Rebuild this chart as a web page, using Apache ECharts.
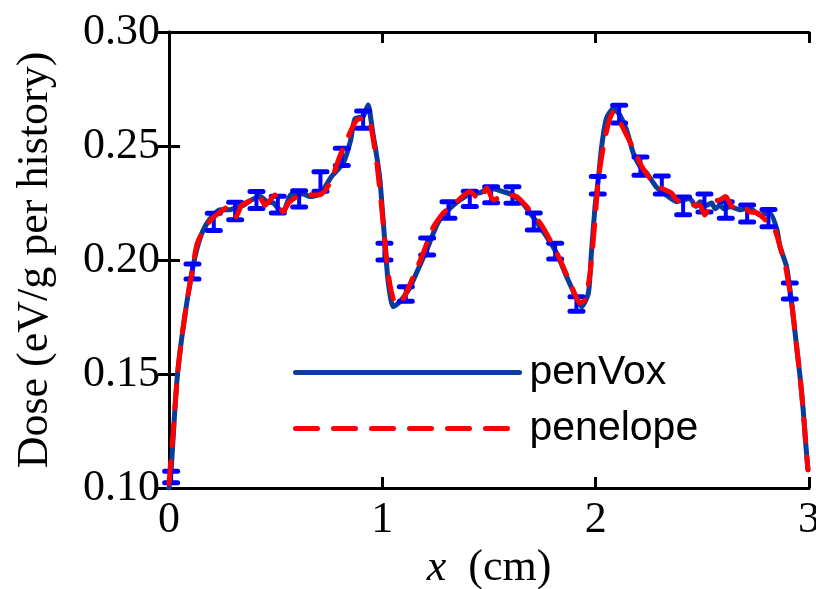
<!DOCTYPE html>
<html>
<head>
<meta charset="utf-8">
<script src="https://cdn.jsdelivr.net/npm/echarts@6/dist/echarts.min.js"></script>
<style>
html,body{margin:0;padding:0;background:#fff;overflow:hidden;}
#chart{width:816px;height:589px;}
</style>
</head>
<body>
<div id="chart"></div>
<script>
// penVox (blue solid)
var penVoxX = [0.000,0.010,0.020,0.030,0.040,0.060,0.083,0.110,0.134,0.160,0.200,0.240,0.280,0.317,0.350,0.380,0.427,0.458,0.490,0.510,0.535,0.575,0.630,0.660,0.708,0.762,0.817,0.850,0.872,0.910,0.933,0.955,0.974,0.989,1.005,1.017,1.028,1.050,1.075,1.106,1.130,1.160,1.214,1.260,1.310,1.364,1.410,1.458,1.505,1.566,1.613,1.660,1.710,1.770,1.817,1.864,1.910,1.935,1.966,1.980,1.997,2.012,2.028,2.050,2.083,2.113,2.145,2.176,2.208,2.240,2.285,2.330,2.380,2.440,2.470,2.490,2.520,2.544,2.560,2.583,2.600,2.630,2.677,2.720,2.770,2.817,2.850,2.864,2.895,2.919,2.940,2.958,2.973,2.986,2.995];
var penVoxY = [0.100,0.108,0.123,0.138,0.150,0.166,0.181,0.196,0.206,0.213,0.219,0.222,0.222,0.223,0.224,0.226,0.228,0.2256,0.225,0.2228,0.2212,0.229,0.229,0.2278,0.229,0.2366,0.2425,0.252,0.262,0.263,0.268,0.256,0.2453,0.235,0.216,0.2015,0.190,0.1795,0.181,0.1846,0.188,0.1943,0.2058,0.2162,0.222,0.2263,0.229,0.2295,0.2316,0.230,0.2285,0.2246,0.2184,0.2102,0.203,0.1927,0.1833,0.1795,0.1855,0.203,0.2234,0.235,0.2497,0.262,0.2665,0.2636,0.257,0.247,0.241,0.238,0.232,0.2285,0.2256,0.227,0.2235,0.2256,0.224,0.225,0.2225,0.224,0.2225,0.2234,0.222,0.2228,0.2197,0.2206,0.2132,0.2058,0.197,0.181,0.1636,0.1488,0.134,0.118,0.108];

// penelope (red dashed)
var penelopeX = [0.000,0.020,0.040,0.060,0.083,0.110,0.130,0.160,0.200,0.240,0.277,0.314,0.340,0.380,0.419,0.450,0.497,0.520,0.535,0.560,0.600,0.645,0.675,0.716,0.755,0.800,0.833,0.880,0.934,0.950,0.975,1.000,1.020,1.036,1.055,1.075,1.100,1.145,1.185,1.240,1.286,1.349,1.410,1.458,1.490,1.520,1.575,1.630,1.677,1.740,1.786,1.840,1.888,1.926,1.950,1.974,1.997,2.012,2.036,2.060,2.083,2.100,2.145,2.184,2.216,2.255,2.286,2.310,2.356,2.380,2.420,2.466,2.490,2.510,2.550,2.580,2.610,2.640,2.690,2.720,2.760,2.810,2.840,2.864,2.887,2.919,2.940,2.958,2.973,2.986,2.995];
var penelopeY = [0.102,0.125,0.150,0.166,0.181,0.196,0.2065,0.213,0.218,0.221,0.2234,0.219,0.224,0.226,0.2285,0.224,0.2285,0.2234,0.221,0.225,0.2278,0.229,0.2285,0.229,0.2338,0.2453,0.2526,0.2614,0.2623,0.257,0.242,0.220,0.200,0.189,0.182,0.1805,0.1833,0.1927,0.2015,0.2146,0.2206,0.2256,0.230,0.2263,0.2316,0.2263,0.2285,0.2278,0.2234,0.2162,0.2088,0.1987,0.1883,0.1811,0.1825,0.1943,0.2175,0.235,0.2497,0.260,0.265,0.263,0.2548,0.2475,0.241,0.2358,0.2329,0.2314,0.2293,0.2263,0.2255,0.224,0.224,0.2197,0.2256,0.2263,0.2278,0.2234,0.224,0.2212,0.2206,0.2162,0.2132,0.206,0.1987,0.181,0.1636,0.1488,0.134,0.118,0.108];

// penVox error bars
var errX = [0.01,0.11,0.21,0.31,0.41,0.51,0.61,0.71,0.81,0.91,1.01,1.11,1.21,1.31,1.41,1.51,1.61,1.71,1.81,1.91,2.01,2.11,2.21,2.31,2.41,2.51,2.61,2.71,2.81,2.91];
var errY = [0.1048,0.195,0.2167,0.2215,0.2263,0.2243,0.2268,0.2344,0.2452,0.2616,0.2037,0.1851,0.2059,0.2219,0.2268,0.2286,0.2285,0.2169,0.2039,0.1807,0.2328,0.264,0.2412,0.2329,0.2237,0.225,0.2219,0.2204,0.2184,0.1864];
var errHalf = [0.0025,0.0033,0.0038,0.0038,0.0037,0.0037,0.0036,0.0043,0.0038,0.0038,0.0037,0.0032,0.0037,0.0036,0.0033,0.0035,0.0036,0.0037,0.0035,0.0032,0.0038,0.0039,0.0040,0.0039,0.0039,0.0040,0.0036,0.0037,0.0038,0.0035];

var xTicks = [0, 1, 2, 3];
var yTicks = [0.10, 0.15, 0.20, 0.25, 0.30];

function pairs(xs, ys){ return xs.map(function(x,i){ return [x, ys[i]]; }); }
var errData = errX.map(function(x,i){ return [x, errY[i], errHalf[i]]; });

var chart = echarts.init(document.getElementById('chart'), null, {renderer:'canvas'});
var axisLineStyle = {color:'#000', width:3};
var serif = 'Liberation Serif';
var option = {
  backgroundColor:'#ffffff',
  animation:false,
  textStyle:{fontFamily:serif},
  grid:{left:169, right:7, top:32, bottom:101, containLabel:false, outerBoundsMode:'none'},
  legend:{
    data:['penVox','penelope'],
    orient:'vertical',
    left:293, top:352, padding:0,
    itemWidth:224, itemHeight:14, itemGap:15,
    itemStyle:{opacity:0},
    lineStyle:{width:5},
    textStyle:{fontFamily:'Liberation Sans', fontSize:41, color:'#000', padding:[0,0,0,5]},
    selectedMode:false
  },
  xAxis:[{
    type:'value', min:xTicks[0], max:xTicks[xTicks.length-1], interval:1, position:'bottom',
    axisLine:{show:true, lineStyle:axisLineStyle},
    axisTick:{show:true, inside:true, length:11, lineStyle:{width:3, color:'#000'}},
    axisLabel:{fontFamily:serif, fontSize:44, color:'#000', margin:10},
    splitLine:{show:false},
    name:'{i|x}{n|  (cm)}', nameLocation:'middle', nameGap:58,
    nameTextStyle:{fontFamily:serif, fontSize:44, color:'#000', rich:{
      i:{fontFamily:serif, fontStyle:'italic', fontSize:44, color:'#000'},
      n:{fontFamily:serif, fontSize:44, color:'#000'}}}
  },{
    type:'value', min:xTicks[0], max:xTicks[xTicks.length-1], interval:1, position:'top',
    axisLine:{show:true, lineStyle:axisLineStyle},
    axisTick:{show:true, inside:true, length:11, lineStyle:{width:3, color:'#000'}},
    axisLabel:{show:false}, splitLine:{show:false}
  }],
  yAxis:[{
    type:'value', min:yTicks[0], max:yTicks[yTicks.length-1], interval:0.05, position:'left',
    axisLine:{show:true, lineStyle:axisLineStyle},
    axisTick:{show:true, inside:true, length:11, lineStyle:{width:3, color:'#000'}},
    axisLabel:{fontFamily:serif, fontSize:44, color:'#000', margin:9, formatter:function(v){return v.toFixed(2);}},
    splitLine:{show:false},
    name:'{d|Dose (eV/g per history)}', nameLocation:'middle', nameGap:112, nameRotate:90,
    nameTextStyle:{fontFamily:serif, fontSize:44, color:'#000', rich:{
      d:{fontFamily:serif, fontSize:44, color:'#000'}}}
  },{
    type:'value', min:yTicks[0], max:yTicks[yTicks.length-1], interval:0.05, position:'right',
    axisLine:{show:true, lineStyle:axisLineStyle},
    axisTick:{show:true, inside:true, length:11, lineStyle:{width:3, color:'#000'}},
    axisLabel:{show:false}, splitLine:{show:false}
  }],
  series:[
    {
      name:'penVox', type:'line', xAxisIndex:0, yAxisIndex:0,
      data:pairs(penVoxX, penVoxY), showSymbol:false, symbol:'none', smooth:0.2,
      lineStyle:{color:'#093c9c', width:5, cap:'round', join:'round'},
      itemStyle:{color:'#093c9c'}, z:2
    },
    {
      name:'penVox error', type:'custom', xAxisIndex:0, yAxisIndex:0,
      data:errData, z:3,
      renderItem:function(params, api){
        var x = api.value(0), y = api.value(1), e = api.value(2);
        var t = api.coord([x, y + e]), b = api.coord([x, y - e]);
        var hw = 6.5;
        var st = {stroke:'#0000ff', lineWidth:4, lineCap:'round'};
        var cs = {stroke:'#0000ff', lineWidth:5, lineCap:'round'};
        return {type:'group', children:[
          {type:'line', shape:{x1:t[0], y1:t[1], x2:b[0], y2:b[1]}, style:st},
          {type:'line', shape:{x1:t[0]-hw, y1:t[1], x2:t[0]+hw, y2:t[1]}, style:cs},
          {type:'line', shape:{x1:b[0]-hw, y1:b[1], x2:b[0]+hw, y2:b[1]}, style:cs}
        ]};
      }
    },
    {
      name:'penelope', type:'line', xAxisIndex:0, yAxisIndex:0,
      data:pairs(penelopeX, penelopeY), showSymbol:false, symbol:'none', smooth:0.2,
      lineStyle:{color:'#ff0000', width:5, type:[22,16], cap:'round', join:'round'},
      itemStyle:{color:'#ff0000'}, z:4
    }
  ]
};
chart.setOption(option);
</script>
</body>
</html>
